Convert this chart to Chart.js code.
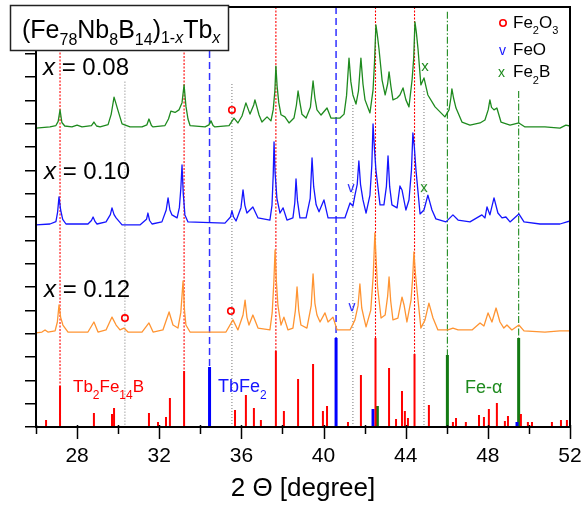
<!DOCTYPE html>
<html><head><meta charset="utf-8">
<script src="https://cdn.jsdelivr.net/npm/chart.js@4.4.1/dist/chart.umd.min.js"></script>
<style>html,body{margin:0;padding:0;background:#fff}#wrap{width:581px;height:506px}</style>
</head><body><div id="wrap"><canvas id="c" width="581" height="506"></canvas></div>
<script>
// ---------- data (2 Theta [deg], intensity [arb. units]) ----------
const trace008 = [[26.00,12.81],[26.68,12.86],[26.97,12.92],[27.08,13.10],[27.17,13.59],[27.26,13.05],[27.40,12.90],[27.75,12.86],[28.00,12.94],[28.24,12.86],[28.70,12.92],[28.82,13.07],[28.95,12.90],[29.12,12.86],[29.51,12.96],[29.66,13.40],[29.80,14.14],[29.88,13.90],[29.98,13.60],[30.19,12.99],[30.58,12.86],[31.16,12.86],[31.40,12.95],[31.50,13.20],[31.62,12.92],[31.70,12.86],[32.28,12.92],[32.45,13.20],[32.57,13.54],[32.77,13.48],[32.96,13.59],[33.11,13.90],[33.21,14.66],[33.30,13.75],[33.40,13.20],[33.50,12.92],[34.23,12.86],[34.42,12.95],[34.52,13.12],[34.62,12.92],[34.71,12.86],[35.40,12.92],[35.64,13.24],[35.83,13.03],[36.03,13.33],[36.22,13.89],[36.42,13.41],[36.60,13.80],[36.66,14.02],[36.76,13.70],[36.86,13.37],[37.00,13.07],[37.25,13.29],[37.44,13.12],[37.55,13.60],[37.63,14.40],[37.68,15.47],[37.74,14.60],[37.82,13.90],[37.93,13.38],[38.12,13.29],[38.32,13.03],[38.56,13.24],[38.68,13.80],[38.76,14.40],[38.85,13.90],[38.95,13.40],[39.15,13.24],[39.36,13.70],[39.49,14.83],[39.58,14.10],[39.68,13.59],[39.88,13.37],[40.17,13.67],[40.36,13.24],[40.80,13.24],[41.00,13.41],[41.12,14.20],[41.24,15.81],[41.33,14.80],[41.43,14.23],[41.58,13.84],[41.70,14.40],[41.82,15.81],[41.92,14.70],[42.02,14.02],[42.26,13.46],[42.41,14.44],[42.48,15.60],[42.55,17.23],[42.62,16.80],[42.70,16.20],[42.85,14.87],[43.00,14.23],[43.12,14.70],[43.19,15.22],[43.28,14.60],[43.38,14.02],[43.58,14.10],[43.72,14.23],[43.87,14.53],[44.01,14.02],[44.16,13.72],[44.31,14.87],[44.39,15.80],[44.45,17.36],[44.52,16.90],[44.60,16.20],[44.74,14.66],[44.89,14.96],[45.08,14.23],[45.43,13.72],[45.91,13.29],[46.11,13.59],[46.20,14.10],[46.25,14.49],[46.33,14.10],[46.45,13.67],[46.74,13.07],[47.13,12.94],[47.62,13.03],[47.86,13.16],[48.02,13.60],[48.10,14.02],[48.18,13.70],[48.30,13.59],[48.44,13.67],[48.64,13.07],[49.08,12.94],[49.51,13.03],[49.81,12.86],[50.78,12.86],[51.51,12.81],[51.80,12.94],[52.00,12.90]];
const trace010 = [[26.00,8.66],[26.68,8.70],[26.97,8.80],[27.05,9.20],[27.12,9.86],[27.20,9.30],[27.30,8.90],[27.46,8.70],[28.53,8.70],[28.70,8.85],[28.78,9.00],[28.88,8.80],[28.97,8.70],[29.41,8.79],[29.62,9.10],[29.70,9.39],[29.80,9.10],[29.90,8.96],[30.19,8.66],[31.06,8.66],[31.38,8.90],[31.45,9.17],[31.53,8.85],[31.65,8.70],[32.13,8.79],[32.34,9.30],[32.43,9.82],[32.52,9.30],[32.62,9.09],[32.87,8.96],[32.98,9.40],[33.05,10.20],[33.11,11.23],[33.17,10.00],[33.25,9.09],[33.40,8.79],[35.20,8.74],[35.47,9.00],[35.54,9.26],[35.62,9.00],[35.74,8.83],[35.98,9.40],[36.08,10.16],[36.17,9.50],[36.27,9.17],[36.56,9.43],[36.81,8.96],[37.39,8.87],[37.49,9.50],[37.55,10.80],[37.59,12.22],[37.64,10.90],[37.73,9.80],[37.88,9.17],[38.03,9.39],[38.22,8.87],[38.51,8.96],[38.60,9.60],[38.66,10.63],[38.73,9.70],[38.85,8.96],[39.15,8.96],[39.35,9.80],[39.44,11.53],[39.52,10.30],[39.64,9.52],[39.78,9.22],[40.02,9.73],[40.22,8.96],[41.04,8.96],[41.29,9.60],[41.43,9.47],[41.53,9.94],[41.64,10.40],[41.72,11.40],[41.80,10.40],[41.92,9.73],[42.07,9.17],[42.26,9.94],[42.35,11.20],[42.41,12.99],[42.48,11.90],[42.55,11.02],[42.75,9.52],[42.94,9.52],[43.06,10.30],[43.14,11.62],[43.22,10.30],[43.33,9.52],[43.58,9.39],[43.72,10.33],[43.82,10.16],[44.01,9.30],[44.16,9.73],[44.28,11.00],[44.35,12.60],[44.42,12.00],[44.50,11.02],[44.70,9.13],[44.89,9.30],[45.08,9.94],[45.28,9.30],[45.47,8.92],[45.96,8.79],[46.30,9.09],[46.55,8.87],[47.13,8.79],[47.71,9.09],[47.86,8.96],[47.96,9.43],[48.10,9.09],[48.30,9.82],[48.49,9.17],[48.69,8.96],[48.88,9.00],[49.08,8.79],[49.51,9.13],[49.76,8.79],[50.54,8.70],[51.51,8.70],[52.00,8.83]];
const trace012 = [[26.00,4.03],[26.29,4.07],[26.44,4.16],[26.58,4.07],[26.93,4.12],[27.04,4.50],[27.12,5.23],[27.20,4.70],[27.31,4.37],[27.56,4.07],[28.53,4.07],[28.82,4.50],[29.02,4.07],[29.41,4.16],[29.70,4.71],[29.90,4.37],[30.09,4.16],[30.28,4.24],[30.48,4.07],[31.16,4.07],[31.50,4.46],[31.70,4.07],[32.18,4.16],[32.48,4.93],[32.67,4.37],[32.91,4.24],[33.05,4.90],[33.16,6.26],[33.23,5.00],[33.30,4.37],[33.50,4.07],[35.25,4.07],[35.59,4.59],[35.83,4.16],[36.08,4.80],[36.18,5.44],[36.27,4.70],[36.37,4.37],[36.56,4.80],[36.81,4.24],[37.39,4.16],[37.50,4.90],[37.58,6.20],[37.64,7.59],[37.70,6.30],[37.78,5.20],[37.93,4.37],[38.07,4.71],[38.27,4.16],[38.51,4.24],[38.63,5.00],[38.71,6.00],[38.79,5.00],[38.90,4.37],[39.19,4.24],[39.40,5.20],[39.49,6.56],[39.58,5.30],[39.68,4.80],[39.83,4.50],[40.07,4.89],[40.22,4.50],[40.46,4.71],[40.66,4.16],[41.29,4.16],[41.53,4.59],[41.68,5.20],[41.77,6.13],[41.86,5.10],[41.97,4.67],[42.07,4.29],[42.30,5.01],[42.42,6.50],[42.50,8.32],[42.57,7.00],[42.63,6.00],[42.80,4.67],[43.00,4.80],[43.12,5.60],[43.19,6.43],[43.27,5.40],[43.38,4.59],[43.62,4.67],[43.82,5.57],[43.92,5.23],[44.06,4.50],[44.26,5.44],[44.34,6.40],[44.40,7.50],[44.47,6.60],[44.55,5.87],[44.74,4.24],[44.94,4.59],[45.13,5.31],[45.33,4.67],[45.57,4.16],[46.06,4.16],[46.30,4.24],[46.55,4.16],[47.23,4.16],[47.62,4.46],[47.81,4.33],[48.01,4.89],[48.20,4.50],[48.40,5.10],[48.59,4.50],[48.78,4.24],[48.93,4.37],[49.17,4.16],[49.51,4.37],[49.76,4.12],[50.78,4.07],[51.51,4.12],[52.00,4.12]];

// reference stick patterns [position, relative height]
const sticksTb2Fe14B = [[26.49,0.30],[27.17,1.76],[28.82,0.60],[29.70,0.56],[29.80,0.81],[31.50,0.60],[31.94,0.21],[32.33,0.43],[32.52,1.24],[33.21,2.40],[35.69,0.73],[36.22,1.37],[36.61,0.81],[36.95,0.30],[37.68,3.26],[38.07,0.69],[38.76,2.06],[39.49,2.70],[39.97,0.69],[40.17,0.90],[41.19,0.21],[41.82,2.23],[42.53,3.81],[43.19,2.53],[43.53,0.34],[43.82,1.54],[43.96,0.69],[44.11,0.39],[44.43,3.13],[45.13,0.94],[46.30,0.21],[46.45,0.39],[46.93,0.21],[47.57,0.51],[47.81,0.43],[48.05,0.77],[48.44,1.03],[48.83,0.26],[48.98,0.47],[49.61,0.56],[49.95,0.21],[50.15,0.21],[51.12,0.21],[51.56,0.30],[51.85,0.30]];
const sticksTbFe2 = [[34.45,2.57],[40.61,3.81],[42.41,0.77],[49.42,0.21]];
const sticksFeAlpha = [[42.62,0.90],[46.03,3.09],[49.50,3.81]];

// vertical guide lines [position, upper end, lower end]
const guideTb2Fe14B = [[27.17,18,1.76],[33.21,18,2.40],[37.68,18,3.26],[42.53,18,3.81],[44.43,18,3.13]];
const guideTbFe2 = [[34.45,18,2.57],[40.61,18,3.81]];
const guideFeAlpha = [[46.03,17.8,3.09],[49.50,14.4,3.81]];
const guideImpurity = [[30.33,14.8,0],[35.54,14.7,0],[41.43,13.8,0],[44.89,14.4,0]];

// impurity markers [position, intensity]
const markFe2O3 = [[35.54,13.59],[30.33,4.67],[35.49,4.97]];
const markFeO = [[41.34,10.24],[41.38,5.14]];
const markFe2B = [[44.94,15.43],[44.89,10.24]];

// axis ticks
const xTickValues = [26,28,30,32,34,36,38,40,42,44,46,48,50,52];
const xTickLabels = [28,32,36,40,44,48,52];

// ---------- drawing ----------
const FAM = "'Liberation Sans', Arial, Helvetica, sans-serif";
const RED = '#ff0000', BLUE = '#1515ff', GREEN = '#1e8a1e', ORANGE = '#ff9432', DGREEN = '#137a13';
const pts = a => a.map(([x,y]) => ({x, y}));
const segs = a => { const o = []; for (const [x,y0,y1] of a) { o.push({x,y:y0},{x,y:y1},{x,y:null}); } return o; };
const sticks = a => segs(a.map(([x,h]) => [x,0,h]));
function glyph(ch, color, size) {
  const c = document.createElement('canvas'); c.width = 14; c.height = 16;
  const g = c.getContext('2d'); g.fillStyle = color; g.font = size + 'px ' + FAM;
  g.textAlign = 'center'; g.textBaseline = 'alphabetic'; g.fillText(ch, 7, 12);
  return c;
}
const lineDs = (data, color, width, order, dash) => ({type:'scatter', data, showLine:true, borderColor:color, borderWidth:width, pointRadius:0, borderDash:dash||[], spanGaps:false, order, tension:0, borderCapStyle:'butt', borderJoinStyle:'round'});

function rich(ctx, x, y, parts, color) {
  ctx.fillStyle = color; ctx.textAlign = 'left'; ctx.textBaseline = 'alphabetic';
  for (const p of parts) {
    ctx.font = (p.i ? 'italic ' : '') + p.s + 'px ' + FAM;
    ctx.fillText(p.t, x, y + (p.dy || 0));
    x += ctx.measureText(p.t).width;
  }
}

const overlay = {
  id: 'overlay',
  afterDraw(chart) {
    const ctx = chart.ctx, a = chart.chartArea, xs = chart.scales.x;
    ctx.save();
    // frame
    ctx.strokeStyle = '#000'; ctx.lineWidth = 2;
    ctx.strokeRect(a.left, a.top, a.right - a.left, a.bottom - a.top);
    // x tick marks
    ctx.lineWidth = 1.5;
    for (const t of xs.ticks) {
      const px = Math.round(xs.getPixelForValue(t.value)) + 0.5;
      const len = xTickLabels.includes(t.value) ? 12 : 7;
      ctx.beginPath(); ctx.moveTo(px, a.bottom - 2); ctx.lineTo(px, a.bottom + len); ctx.stroke();
    }
    // series labels
    const big = 24;
    rich(ctx, 43, 75, [{t:'x', s:big, i:true},{t:' = 0.08', s:big}], '#000');
    rich(ctx, 44, 179, [{t:'x', s:big, i:true},{t:' = 0.10', s:big}], '#000');
    rich(ctx, 44, 297, [{t:'x', s:big, i:true},{t:' = 0.12', s:big}], '#000');
    // phase labels
    rich(ctx, 73, 392, [{t:'Tb', s:17},{t:'2', s:12, dy:7},{t:'Fe', s:17},{t:'14', s:12, dy:7},{t:'B', s:17}], RED);
    rich(ctx, 218, 392, [{t:'TbFe', s:18},{t:'2', s:12, dy:7}], BLUE);
    rich(ctx, 465, 393, [{t:'Fe-\u03b1', s:18}], GREEN);
    // marker legend
    ctx.strokeStyle = RED; ctx.lineWidth = 1.6;
    ctx.beginPath(); ctx.arc(503, 23, 3.2, 0, Math.PI * 2); ctx.stroke();
    rich(ctx, 513, 28, [{t:'Fe', s:17},{t:'2', s:11, dy:6},{t:'O', s:17},{t:'3', s:11, dy:6}], '#000');
    rich(ctx, 499, 55, [{t:'v', s:14}], BLUE);
    rich(ctx, 513, 55, [{t:'FeO', s:17}], '#000');
    rich(ctx, 498, 77, [{t:'x', s:14}], GREEN);
    rich(ctx, 513, 77, [{t:'Fe', s:17},{t:'2', s:11, dy:7},{t:'B', s:17}], '#000');
    // composition box
    ctx.fillStyle = '#fff'; ctx.fillRect(10, 5, 219, 46);
    ctx.strokeStyle = '#222'; ctx.lineWidth = 1.5; ctx.strokeRect(10.5, 5.5, 218, 45);
    rich(ctx, 22, 38, [
      {t:'(Fe', s:25},{t:'78', s:16, dy:7},{t:'Nb', s:25},{t:'8', s:16, dy:7},{t:'B', s:25},{t:'14', s:16, dy:7},{t:')', s:25},
      {t:'1-', s:16, dy:5},{t:'x', s:16, dy:5, i:true},{t:'Tb', s:25},{t:'x', s:16, dy:5, i:true}
    ], '#000');
    ctx.restore();
  }
};

new Chart(document.getElementById('c'), {
  type: 'scatter',
  data: { datasets: [
    {type:'scatter', data: pts(markFe2O3), pointStyle:'circle', pointRadius:3.2, borderColor:RED, borderWidth:1.6, backgroundColor:'rgba(0,0,0,0)', order:0},
    {type:'scatter', data: pts(markFeO), pointStyle: glyph('v', BLUE, 14), order:0},
    {type:'scatter', data: pts(markFe2B), pointStyle: glyph('x', GREEN, 15), order:0},
    lineDs(pts(trace008), GREEN, 1.3, 1),
    lineDs(pts(trace010), BLUE, 1.3, 1),
    lineDs(pts(trace012), ORANGE, 1.3, 1),
    lineDs(sticks(sticksTb2Fe14B), RED, 2, 2),
    lineDs(sticks(sticksTbFe2), '#0000ff', 3, 2),
    lineDs(sticks(sticksFeAlpha), DGREEN, 3, 2),
    lineDs(segs(guideTb2Fe14B), RED, 1.1, 3, [2,1.5]),
    lineDs(segs(guideTbFe2), '#3030ff', 1.5, 3, [7,4]),
    lineDs(segs(guideFeAlpha), GREEN, 1.1, 3, [7,2,1.5,2]),
    lineDs(segs(guideImpurity), '#777', 1, 3, [1,2])
  ]},
  options: {
    responsive: false, animation: false, events: [],
    layout: { padding: { left: 0, right: 11, top: 7, bottom: 0 } },
    plugins: { legend: { display: false }, tooltip: { enabled: false } },
    scales: {
      x: {
        type: 'linear', min: 26, max: 52,
        afterBuildTicks: s => { s.ticks = xTickValues.map(v => ({ value: v })); },
        ticks: { autoSkip: false, maxRotation: 0, padding: 5, color: '#000', font: { size: 21, family: FAM },
          callback: v => xTickLabels.includes(v) ? String(v) : '' },
        grid: { display: false, drawTicks: true, tickLength: 12 },
        border: { display: false },
        title: { display: true, text: '2 \u0398 [degree]', color: '#000', font: { size: 26, family: FAM }, padding: { top: 0, bottom: 2 } },
        afterFit: s => { s.height = 79; s.paddingLeft = 0; s.paddingRight = 0; }
      },
      y: {
        type: 'linear', min: 0, max: 18,
        ticks: { display: false, stepSize: 1 },
        grid: { display: true, drawOnChartArea: false, drawTicks: true, tickLength: 11, color: '#000', lineWidth: 1.5 },
        border: { display: false },
        afterFit: s => { s.width = 36; }
      }
    }
  },
  plugins: [overlay]
});
</script></body></html>
